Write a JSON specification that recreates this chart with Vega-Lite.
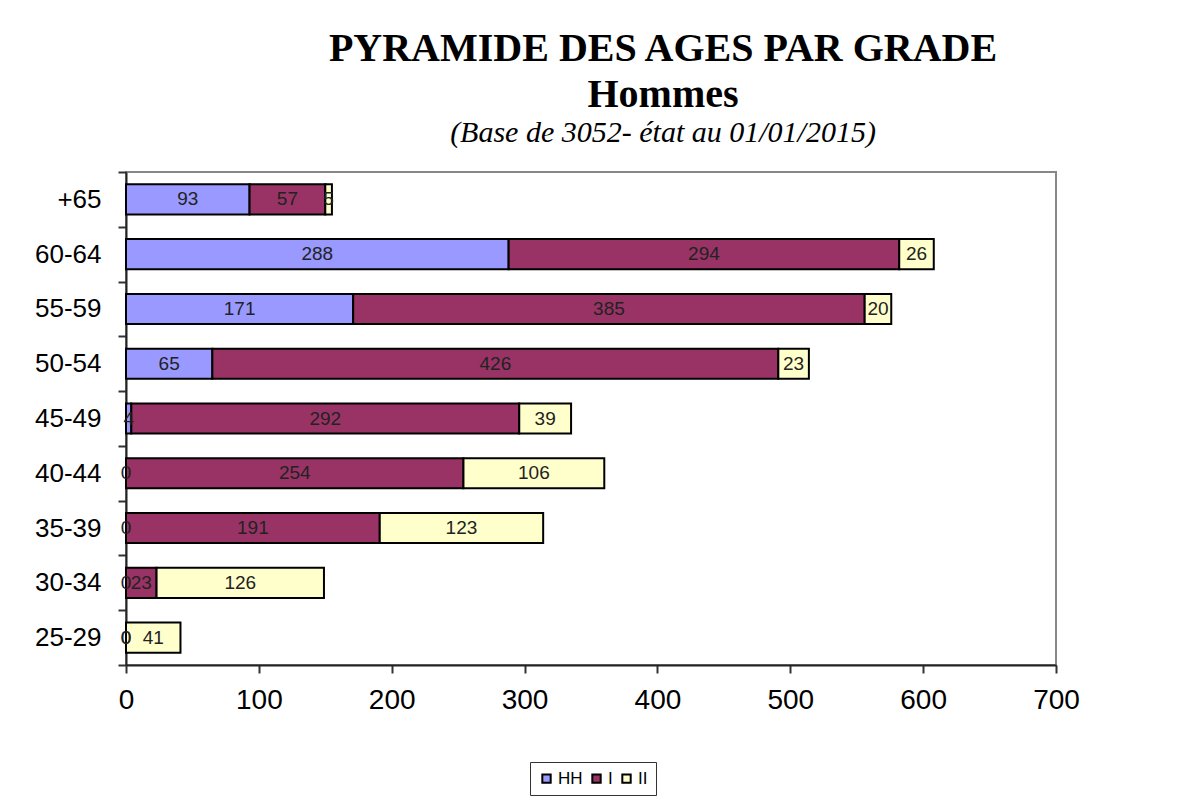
{
  "$schema": "https://vega.github.io/schema/vega-lite/v6.json",
  "width": 930,
  "height": 493,
  "autosize": {"type": "none"},
  "padding": {"left": 126, "top": 172, "right": 133, "bottom": 136},
  "background": "white",
  "title": {
    "text": ["PYRAMIDE DES AGES PAR GRADE", "Hommes"],
    "subtitle": "(Base de 3052- état au 01/01/2015)",
    "font": "Liberation Serif",
    "fontSize": 40,
    "fontWeight": "bold",
    "lineHeight": 46,
    "color": "black",
    "subtitleFont": "Liberation Serif",
    "subtitleFontSize": 30,
    "subtitleFontStyle": "italic",
    "subtitleColor": "black",
    "subtitlePadding": 3,
    "anchor": "middle",
    "dx": 72,
    "offset": 11
  },
  "data": {
    "values": [
      {"age": "+65", "grade": "HH", "value": 93},
      {"age": "+65", "grade": "I", "value": 57},
      {"age": "+65", "grade": "II", "value": 5},
      {"age": "60-64", "grade": "HH", "value": 288},
      {"age": "60-64", "grade": "I", "value": 294},
      {"age": "60-64", "grade": "II", "value": 26},
      {"age": "55-59", "grade": "HH", "value": 171},
      {"age": "55-59", "grade": "I", "value": 385},
      {"age": "55-59", "grade": "II", "value": 20},
      {"age": "50-54", "grade": "HH", "value": 65},
      {"age": "50-54", "grade": "I", "value": 426},
      {"age": "50-54", "grade": "II", "value": 23},
      {"age": "45-49", "grade": "HH", "value": 4},
      {"age": "45-49", "grade": "I", "value": 292},
      {"age": "45-49", "grade": "II", "value": 39},
      {"age": "40-44", "grade": "HH", "value": 0},
      {"age": "40-44", "grade": "I", "value": 254},
      {"age": "40-44", "grade": "II", "value": 106},
      {"age": "35-39", "grade": "HH", "value": 0},
      {"age": "35-39", "grade": "I", "value": 191},
      {"age": "35-39", "grade": "II", "value": 123},
      {"age": "30-34", "grade": "HH", "value": 0},
      {"age": "30-34", "grade": "I", "value": 23},
      {"age": "30-34", "grade": "II", "value": 126},
      {"age": "25-29", "grade": "HH", "value": 0},
      {"age": "25-29", "grade": "I", "value": 0},
      {"age": "25-29", "grade": "II", "value": 41}
    ]
  },
  "transform": [
    {"stack": "value", "groupby": ["age"], "sort": [{"field": "grade", "order": "ascending"}], "as": ["v0", "v1"]},
    {"calculate": "(datum.v0 + datum.v1) / 2", "as": "mid"}
  ],
  "encoding": {
    "y": {
      "field": "age",
      "type": "nominal",
      "sort": ["+65", "60-64", "55-59", "50-54", "45-49", "40-44", "35-39", "30-34", "25-29"],
      "scale": {"paddingInner": 0, "paddingOuter": 0},
      "axis": {
        "title": null,
        "tickBand": "extent",
        "tickSize": 8,
        "tickColor": "#333",
        "tickWidth": 2,
        "domainColor": "#222",
        "domainWidth": 2,
        "labelFont": "Liberation Sans",
        "labelFontSize": 26,
        "labelColor": "black",
        "labelPadding": 17
      }
    }
  },
  "layer": [
    {
      "mark": {"type": "bar", "stroke": "black", "strokeWidth": 2, "height": {"band": 0.55}},
      "encoding": {
        "x": {
          "field": "v0",
          "type": "quantitative",
          "scale": {"domain": [0, 700], "nice": false},
          "axis": {
            "title": null,
            "values": [0, 100, 200, 300, 400, 500, 600, 700],
            "grid": false,
            "tickSize": 8,
            "tickColor": "#333",
            "tickWidth": 2,
            "domainColor": "#222",
            "domainWidth": 2,
            "labelFont": "Liberation Sans",
            "labelFontSize": 28,
            "labelColor": "black",
            "labelPadding": 13,
            "labelFlush": false
          }
        },
        "x2": {"field": "v1"},
        "color": {
          "field": "grade",
          "type": "nominal",
          "scale": {"domain": ["HH", "I", "II"], "range": ["#9999FF", "#993366", "#FFFFCC"]},
          "legend": {
            "title": null,
            "orient": "none",
            "legendX": 404,
            "legendY": 590,
            "direction": "horizontal",
            "strokeColor": "#333",
            "padding": 8,
            "symbolType": "square",
            "symbolSize": 70,
            "symbolStrokeColor": "black",
            "symbolStrokeWidth": 2,
            "symbolOpacity": 1,
            "labelFont": "Liberation Sans",
            "labelFontSize": 17,
            "labelColor": "black",
            "labelOffset": 3,
            "columnPadding": 5
          }
        }
      }
    },
    {
      "mark": {"type": "text", "font": "Liberation Sans", "fontSize": 19, "color": "#222", "align": "center", "baseline": "middle"},
      "encoding": {
        "x": {"field": "mid", "type": "quantitative"},
        "text": {"field": "value", "type": "quantitative"}
      }
    }
  ],
  "config": {
    "view": {"stroke": "#888", "strokeWidth": 2}
  }
}
